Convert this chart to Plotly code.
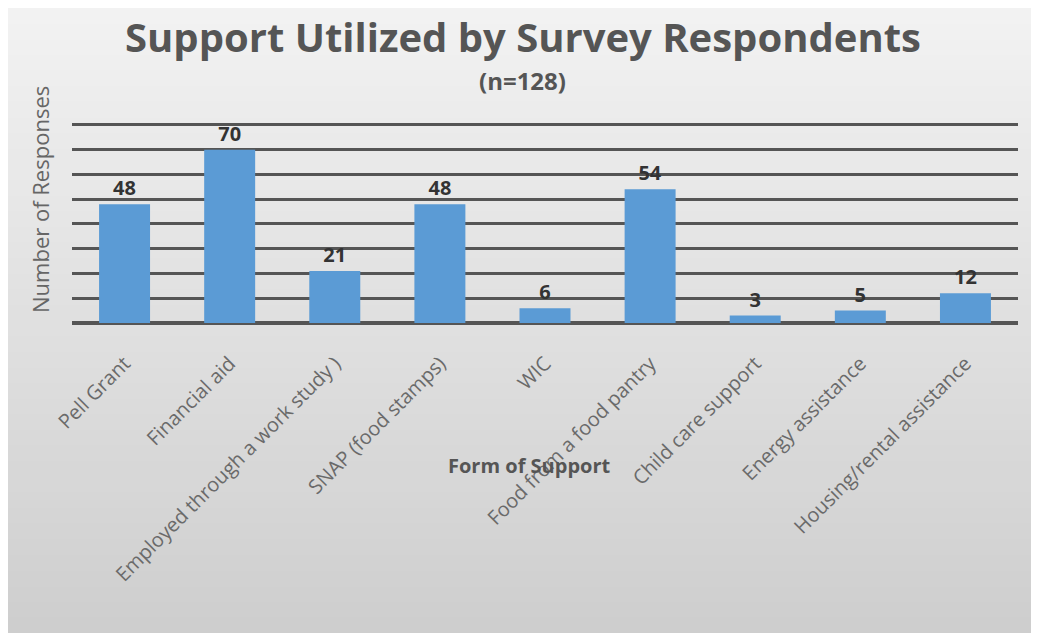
import plotly.graph_objects as go

categories = ["Pell Grant", "Financial aid", "Employed through a work study )",
              "SNAP (food stamps)", "WIC", "Food from a food pantry",
              "Child care support", "Energy assistance", "Housing/rental assistance"]
responses = [48, 70, 21, 48, 6, 54, 3, 5, 12]
y_ticks = [0, 10, 20, 30, 40, 50, 60, 70, 80]

OFF = 8  # page body margin
W, H = 1039 - OFF, 633 - OFF
# screen-space targets
PL, PR, PT, PB = 72, 1018, 120, 323
L, T = PL - OFF, PT - OFF
R = W - (PR - OFF)
B = H - (PB - OFF)
pw, ph = W - L - R, H - T - B

def px_x(X):  # screen pixel -> paper
    return (X - OFF - L) / pw

def px_y(Y):
    return (PB - Y) / ph

FONT = "Open Sans"

fig = go.Figure()
fig.add_trace(go.Bar(
    x=categories, y=responses,
    marker=dict(color="#5b9bd5", line=dict(width=0)),
    text=[str(v) for v in responses], textposition="outside",
    textfont=dict(family=FONT, size=20, color="#333333", weight="bold"),
    cliponaxis=False,
))

# background gradient bands
shapes = []
N = 40
top, bot = OFF, 633
for i in range(N):
    y0 = top + (bot - top) * i / N
    y1 = top + (bot - top) * (i + 1) / N + 2
    t = (i + 0.5) / N
    c = int(round(242 - (242 - 206) * t))
    shapes.append(dict(type="rect", xref="paper", yref="paper",
                       x0=px_x(OFF), x1=px_x(1039), y0=px_y(min(y1, 633)), y1=px_y(y0),
                       fillcolor=f"rgb({c},{c},{c})", line=dict(width=0),
                       layer="below"))

fig.update_layout(
    width=W, height=H,
    margin=dict(l=L, r=R, t=T, b=B, autoexpand=False),
    paper_bgcolor="white", plot_bgcolor="rgba(0,0,0,0)",
    shapes=shapes,
    bargap=0.515,
    showlegend=False,
    title=dict(text="<b>Support Utilized by Survey Respondents</b>",
               xref="container", yref="container",
               x=(523 - OFF) / W, y=1 - (38 - OFF) / H,
               xanchor="center", yanchor="middle",
               font=dict(family=FONT, size=40, color="#555555")),
    annotations=[
        dict(text="<b>(n=128)</b>", xref="paper", yref="paper",
             x=px_x(522), y=px_y(80), xanchor="center", yanchor="middle",
             showarrow=False, font=dict(family=FONT, size=24, color="#555555")),
        dict(text="<b>Form of Support</b>", xref="paper", yref="paper",
             x=px_x(529), y=px_y(465), xanchor="center", yanchor="middle",
             showarrow=False, font=dict(family=FONT, size=20, color="#555555")),
        dict(text="Number of Responses", xref="paper", yref="paper",
             x=px_x(40), y=px_y(200), xanchor="center", yanchor="middle",
             textangle=-90,
             showarrow=False, font=dict(family=FONT, size=22, color="#666666")),
    ],
    xaxis=dict(tickangle=-45, tickfont=dict(family=FONT, size=20, color="#6a6a6a"),
               showgrid=False, showline=False, ticks="outside", ticklen=20,
               tickcolor="rgba(0,0,0,0)", automargin=False),
    yaxis=dict(range=[0, 82], tickvals=y_ticks, showticklabels=False,
               showgrid=True, gridcolor="#555555", gridwidth=2.6,
               zeroline=True, zerolinecolor="#555555", zerolinewidth=3.5,
               showline=False, ticks="", automargin=False),
)

fig.write_html("out.html")
